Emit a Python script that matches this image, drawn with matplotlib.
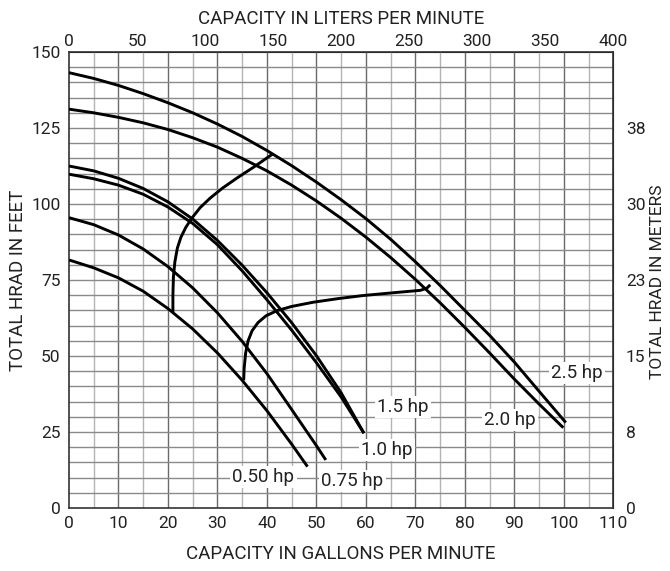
import matplotlib
matplotlib.use("Agg")
import matplotlib.pyplot as plt
import numpy as np

plt.rcParams['font.family'] = ['Roboto', 'DejaVu Sans']

# pump curves (gpm, feet)
hp25_gpm = [0, 5, 10, 15, 20, 25, 30, 35, 40, 45, 50, 55, 60, 65, 70, 75, 80, 85, 90, 95, 100.4]
hp25_ft = [143.2, 141.3, 139.0, 136.3, 133.3, 130.0, 126.3, 122.2, 117.6, 112.6, 107.2,
           101.4, 95.2, 88.4, 81.0, 73.2, 65.0, 56.8, 48.0, 38.4, 28.1]
hp20_gpm = [0, 5, 10, 15, 20, 25, 30, 35, 40, 45, 50, 55, 60, 65, 70, 75, 80, 85, 90, 95, 99.9]
hp20_ft = [131.2, 130.0, 128.5, 126.7, 124.5, 121.8, 118.7, 115.0, 110.9, 106.2, 101.0,
           95.3, 89.1, 82.4, 75.2, 67.5, 59.4, 51.0, 42.4, 34.2, 26.4]
hp15_gpm = [0, 5, 10, 15, 20, 25, 30, 35, 40, 45, 50, 55, 59.6]
hp15_ft = [112.5, 110.9, 108.45, 105.1, 100.7, 95.05, 88.0, 79.85, 70.8, 60.95, 50.1, 37.9, 24.6]
hp10_gpm = [0, 5, 10, 15, 20, 25, 30, 35, 40, 45, 50, 55, 59.6]
hp10_ft = [109.8, 108.3, 106.2, 103.2, 99.0, 93.6, 86.6, 78.0, 68.5, 58.5, 47.8, 36.5, 24.6]
hp075_gpm = [0, 5, 10, 15, 20, 25, 30, 35, 40, 45, 50, 51.9]
hp075_ft = [95.5, 93.2, 89.8, 85.2, 79.4, 72.4, 64.2, 54.8, 44.2, 32.4, 20.5, 15.8]
hp050_gpm = [0, 5, 10, 15, 20, 25, 30, 35, 40, 45, 48.2]
hp050_ft = [81.6, 79.0, 75.7, 71.3, 65.6, 58.9, 51.0, 42.0, 32.0, 21.0, 13.6]

# the two operating-range boundary lines
bnd1_gpm = [21.0, 21.0, 21.1, 21.4, 21.9, 22.6, 23.6, 24.8, 26.5, 28.5, 31.0, 34.0, 37.2, 41.2]
bnd1_ft = [64.5, 70.0, 76.0, 81.0, 85.5, 89.0, 92.3, 95.3, 98.8, 101.9, 105.2, 108.6, 112.0, 116.5]
bnd2_gpm = [35.3, 35.4, 35.7, 36.2, 37.0, 38.2, 39.8, 42.0, 45.0, 49.4, 54.5, 59.5, 65.5, 71.0,
            72.3, 73.0]
bnd2_ft = [42.0, 46.0, 51.0, 55.0, 58.3, 61.0, 63.2, 64.9, 66.3, 67.7, 68.9, 69.9, 70.8, 71.6,
           72.3, 73.4]

curve_labels = ["2.5 hp", "2.0 hp", "1.5 hp", "1.0 hp", "0.50 hp", "0.75 hp"]
label_gpm = [102.6, 89.1, 67.5, 64.3, 39.3, 57.3]
label_ft = [44.5, 28.9, 33.3, 19.1, 10.3, 9.0]

gpm_ticks = list(range(0, 111, 10))
lpm_ticks = list(range(0, 401, 50))
ft_ticks = [0, 25, 50, 75, 100, 125, 150]
m_ticks = [0, 25, 50, 75, 100, 125]
m_labels = ["0", "8", "15", "23", "30", "38"]

W, H = 670, 571
fig = plt.figure(figsize=(W / 100, H / 100), dpi=100)
ax = fig.add_axes([69 / W, 1 - 508 / H, (613.3 - 69) / W, (508 - 52) / H])
ax.set_xlim(0, 110)
ax.set_ylim(0, 150)

# grid
for x in np.arange(5, 110, 5):
    major = x % 10 == 0
    ax.axvline(x, color='#6a6a6a' if major else '#b4b4b4', lw=1.0, zorder=1)
for y in np.arange(5, 150, 5):
    ax.axhline(y, color='#8a8a8a', lw=1.0, zorder=1)

lw = 2.1
for xs, ys in [(hp25_gpm, hp25_ft), (hp20_gpm, hp20_ft), (hp15_gpm, hp15_ft),
               (hp10_gpm, hp10_ft), (hp075_gpm, hp075_ft), (hp050_gpm, hp050_ft),
               (bnd1_gpm, bnd1_ft), (bnd2_gpm, bnd2_ft)]:
    ax.plot(xs, ys, color='black', lw=lw, solid_capstyle='butt', solid_joinstyle='round', zorder=3)

for t, x, y in zip(curve_labels, label_gpm, label_ft):
    ax.text(x, y, t, ha='center', va='center', fontsize=13.5, color='#222222', zorder=4,
            bbox=dict(facecolor='white', edgecolor='none', pad=1.5))

for s in ax.spines.values():
    s.set_color('#333333')
    s.set_linewidth(1.2)

ax.set_xticks(gpm_ticks)
ax.set_yticks(ft_ticks)
ax.tick_params(length=0, labelsize=12.5, labelcolor='#222222', pad=6)
ax.set_xlabel("CAPACITY IN GALLONS PER MINUTE", fontsize=13.5, color='#222222', labelpad=10)
ax.set_ylabel("TOTAL HRAD IN FEET", fontsize=13.5, color='#222222', labelpad=3)

top = ax.secondary_xaxis('top', functions=(lambda x: x * 400 / 110, lambda x: x * 110 / 400))
top.set_xticks(lpm_ticks)
top.tick_params(length=0, labelsize=12.5, labelcolor='#222222', pad=2)
top.set_xlabel("CAPACITY IN LITERS PER MINUTE", fontsize=13.5, color='#222222', labelpad=7)

right = ax.secondary_yaxis('right')
right.set_yticks(m_ticks)
right.set_yticklabels(m_labels)
right.tick_params(length=0, labelsize=12.5, labelcolor='#222222', pad=9)
fig.text(658 / W, 1 - 282 / H, "TOTAL HRAD IN METERS", rotation=90, ha='center', va='center',
         fontsize=12.5, color='#222222')

fig.savefig("out.png", dpi=100)
